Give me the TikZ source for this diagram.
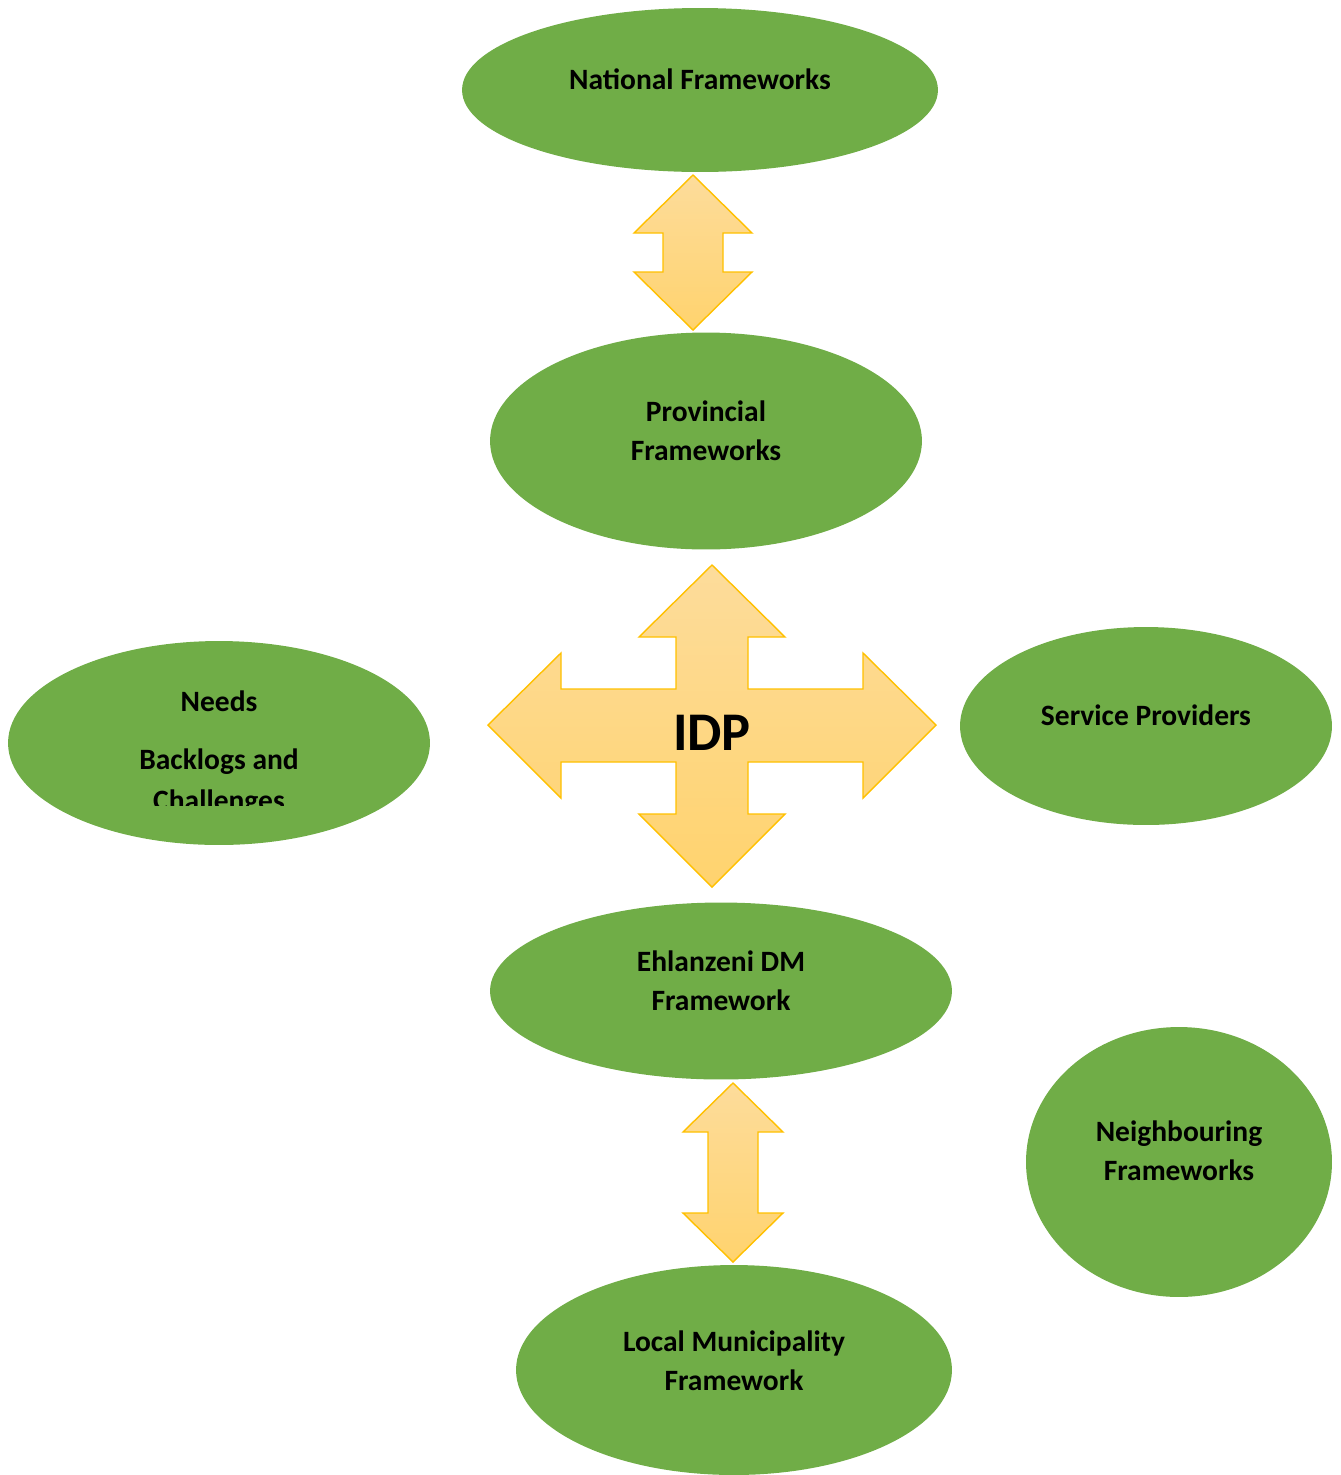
\documentclass[tikz,border=0pt]{standalone}
\usepackage{fontspec}
\setmainfont{Carlito}
\usetikzlibrary{positioning, calc, shapes}

\definecolor{leaf}{HTML}{70AD47}
\definecolor{arrowtop}{HTML}{FDDC9B}
\definecolor{arrowbot}{HTML}{FFD36E}
\definecolor{arrowline}{HTML}{FFC000}

% vertical double block arrow: top tip, bottom tip, head half width, shaft half width, head length
\newcommand{\updown}[5]{%
  \path[blockarrow] (#1) -- ($(#1)+(#3,#5)$) -- ($(#1)+(#4,#5)$) -- ($(#2)+(#4,-#5)$)
    -- ($(#2)+(#3,-#5)$) -- (#2) -- ($(#2)+(-#3,-#5)$) -- ($(#2)+(-#4,-#5)$)
    -- ($(#1)+(-#4,#5)$) -- ($(#1)+(-#3,#5)$) -- cycle;}

\begin{document}
\begin{tikzpicture}[x=0.02cm, y=-0.02cm,
  blob/.style={ellipse, fill=leaf, draw=none, inner sep=0pt},
  lbl/.style={font=\fontsize{16.8}{22.3}\selectfont\bfseries, align=center, inner sep=0pt},
  blockarrow/.style={draw=arrowline, line width=0.8pt, line join=miter, top color=arrowtop, bottom color=arrowbot}]
  \useasboundingbox (0,0) rectangle (1341,1475);

  % frameworks
  \node[blob, minimum width=9.52cm, minimum height=3.28cm] (nat) at (700,90) {};
  \node[lbl] at (700,79) {National Frameworks};
  \node[blob, minimum width=8.64cm, minimum height=4.34cm] (prov) at (706,441) {};
  \node[lbl] at (706,431) {Provincial\\Frameworks};
  \node[blob, minimum width=8.44cm, minimum height=4.08cm] (needs) at (219,743) {};
  \begin{scope}
    \clip (0,600) rectangle (440,805);
    \node[lbl, font=\fontsize{16.8}{23.3}\selectfont\bfseries] at (219,753) {Needs\\[0.34cm]Backlogs and\\Challenges};
  \end{scope}
  \node[blob, minimum width=7.44cm, minimum height=3.96cm] (serv) at (1146,726) {};
  \node[lbl] at (1146,715) {Service Providers};
  \node[blob, minimum width=9.24cm, minimum height=3.54cm] (ehl) at (721,991) {};
  \node[lbl] at (721,981) {Ehlanzeni DM\\Framework};
  \node[blob, minimum width=6.12cm, minimum height=5.40cm] (neigh) at (1179,1162) {};
  \node[lbl] at (1179,1151) {Neighbouring\\Frameworks};
  \node[blob, minimum width=8.72cm, minimum height=4.20cm] (loc) at (734,1370) {};
  \node[lbl] at (734,1361) {Local Municipality\\Framework};

  % arrows
  \coordinate (up1) at (693,175);
  \coordinate (dn1) at (693,330);
  \updown{up1}{dn1}{59}{30}{58}
  \coordinate (up2) at (733,1083);
  \coordinate (dn2) at (733,1262);
  \updown{up2}{dn2}{50}{25}{49}

  \coordinate (hub) at (712,725);
  \path[blockarrow, shift={(hub)}] (0,-160) -- (73,-88) -- (36,-88) -- (36,-36) -- (151,-36)
    -- (151,-72) -- (224,0) -- (151,73) -- (151,37) -- (36,37) -- (36,89) -- (73,89)
    -- (0,162) -- (-73,89) -- (-36,89) -- (-36,37) -- (-151,37) -- (-151,73) -- (-224,0)
    -- (-151,-72) -- (-151,-36) -- (-36,-36) -- (-36,-88) -- (-73,-88) -- cycle;
  \node[font=\fontsize{31}{36}\selectfont\bfseries, inner sep=0pt] (idp) at (712,733) {IDP};
\end{tikzpicture}
\end{document}
